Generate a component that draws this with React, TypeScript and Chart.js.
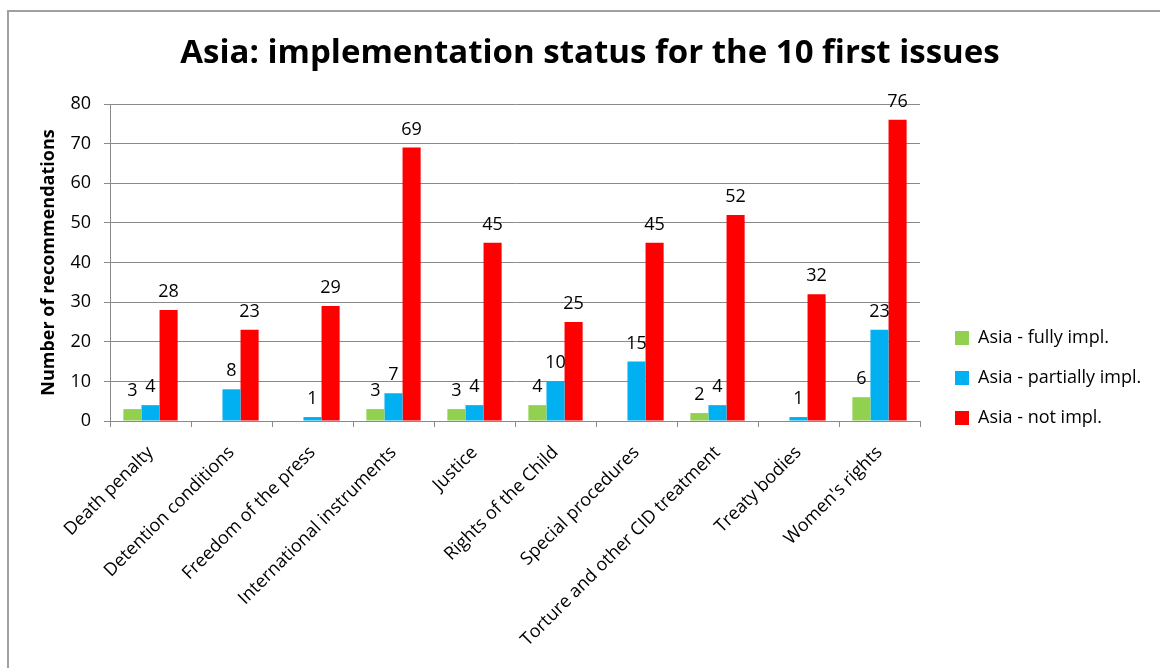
import React, { useEffect, useRef } from "react";
import { Chart, registerables } from "chart.js";

Chart.register(...registerables);

const TITLE = "Asia: implementation status for the 10 first issues";
const Y_TITLE = "Number of recommendations";

const categories = [
  "Death penalty",
  "Detention conditions",
  "Freedom of the press",
  "International instruments",
  "Justice",
  "Rights of the Child",
  "Special procedures",
  "Torture and other CID treatment",
  "Treaty bodies",
  "Women's rights",
];

const seriesNames = ["Asia - fully impl.", "Asia - partially impl.", "Asia - not impl."];
const fullyImpl = [3, 0, 0, 3, 3, 4, 0, 2, 0, 6];
const partiallyImpl = [4, 8, 1, 7, 4, 10, 15, 4, 1, 23];
const notImpl = [28, 23, 29, 69, 45, 25, 45, 52, 32, 76];
const seriesColors = ["#92D050", "#00B0F0", "#FF0000"];

const yMin = 0;
const yMax = 80;
const yStep = 10;

const FONT = "'Open Sans'";
const GRID = "#898989";

const dataLabelPlugin = {
  id: "dataLabels",
  afterDatasetsDraw(chart: any) {
    const ctx = chart.ctx;
    ctx.save();
    ctx.font = `18px ${FONT}`;
    ctx.fillStyle = "#000";
    ctx.textAlign = "center";
    ctx.textBaseline = "alphabetic";
    chart.data.datasets.forEach((ds: any, di: number) => {
      const meta = chart.getDatasetMeta(di);
      meta.data.forEach((el: any, i: number) => {
        const v = ds.data[i];
        if (!v) return;
        ctx.fillText(String(v), el.x, el.y - 13);
      });
    });
    ctx.restore();
  },
};

const placePlugin = {
  id: "placeBoxes",
  afterLayout(chart: any) {
    const lg = chart.legend;
    if (lg) {
      lg.left = 933;
      lg.right = 1160;
      lg.top = 307;
      lg.bottom = 668;
    }
    const tb = chart.titleBlock;
    if (tb) {
      tb.left = 20;
      tb.right = 1160;
    }
  },
};

export default function App() {
  const ref = useRef<HTMLCanvasElement | null>(null);

  useEffect(() => {
    if (!ref.current) return;
    const datasets = [fullyImpl, partiallyImpl, notImpl].map((d, i) => ({
      label: seriesNames[i],
      data: d,
      backgroundColor: seriesColors[i],
      borderWidth: 0,
      categoryPercentage: 0.67,
      barPercentage: 1.0,
    }));
    const chart = new Chart(ref.current, {
      type: "bar",
      data: { labels: categories, datasets },
      plugins: [dataLabelPlugin, placePlugin],
      options: {
        responsive: false,
        animation: false,
        devicePixelRatio: 1,
        layout: { padding: { left: 0, top: 0, right: 90, bottom: 0 } },
        plugins: {
          title: {
            display: true,
            text: TITLE,
            color: "#000",
            font: { family: FONT, size: 33, weight: "bold" },
            padding: { top: 34, bottom: 30.4 },
          },
          legend: {
            display: true,
            position: "right",
            align: "start",
            fullSize: false,
            maxWidth: 150,
            labels: {
              color: "#000",
              font: { family: FONT, size: 18 },
              boxWidth: 14,
              boxHeight: 14,
              padding: 22,
            },
          },
          tooltip: { enabled: false },
        },
        scales: {
          x: {
            grid: {
              display: true,
              drawOnChartArea: false,
              drawTicks: true,
              tickLength: 6,
              color: GRID,
              offset: true,
            },
            border: { display: true, color: GRID, width: 1 },
            ticks: {
              color: "#000",
              font: { family: FONT, size: 18 },
              minRotation: 45,
              maxRotation: 45,
              autoSkip: false,
              padding: 15,
            },
            afterFit(scale: any) {
              scale.height = 247;
            },
          },
          y: {
            min: yMin,
            max: yMax,
            grid: { color: GRID, tickLength: 6, drawTicks: true },
            border: { display: true, color: GRID, width: 1 },
            ticks: {
              stepSize: yStep,
              color: "#000",
              font: { family: FONT, size: 18 },
              padding: 13,
            },
            title: {
              display: true,
              text: Y_TITLE,
              color: "#000",
              font: { family: FONT, size: 18, weight: "bold" },
              padding: { top: 38, bottom: 0 },
            },
            afterFit(scale: any) {
              scale.width = 110;
            },
          },
        },
      },
    } as any);
    return () => chart.destroy();
  }, []);

  return (
    <div
      style={{
        position: "fixed",
        left: 0,
        top: 0,
        width: 1160,
        height: 668,
        overflow: "hidden",
        background: "#fff",
      }}
    >
      <div
        style={{
          position: "absolute",
          left: 7,
          top: 10,
          width: 1300,
          height: 800,
          borderTop: "2px solid #a0a0a0",
          borderLeft: "2px solid #a0a0a0",
        }}
      />
      <canvas
        ref={ref}
        width={1160}
        height={668}
        style={{ position: "absolute", left: 0, top: 0, width: 1160, height: 668 }}
      />
    </div>
  );
}
